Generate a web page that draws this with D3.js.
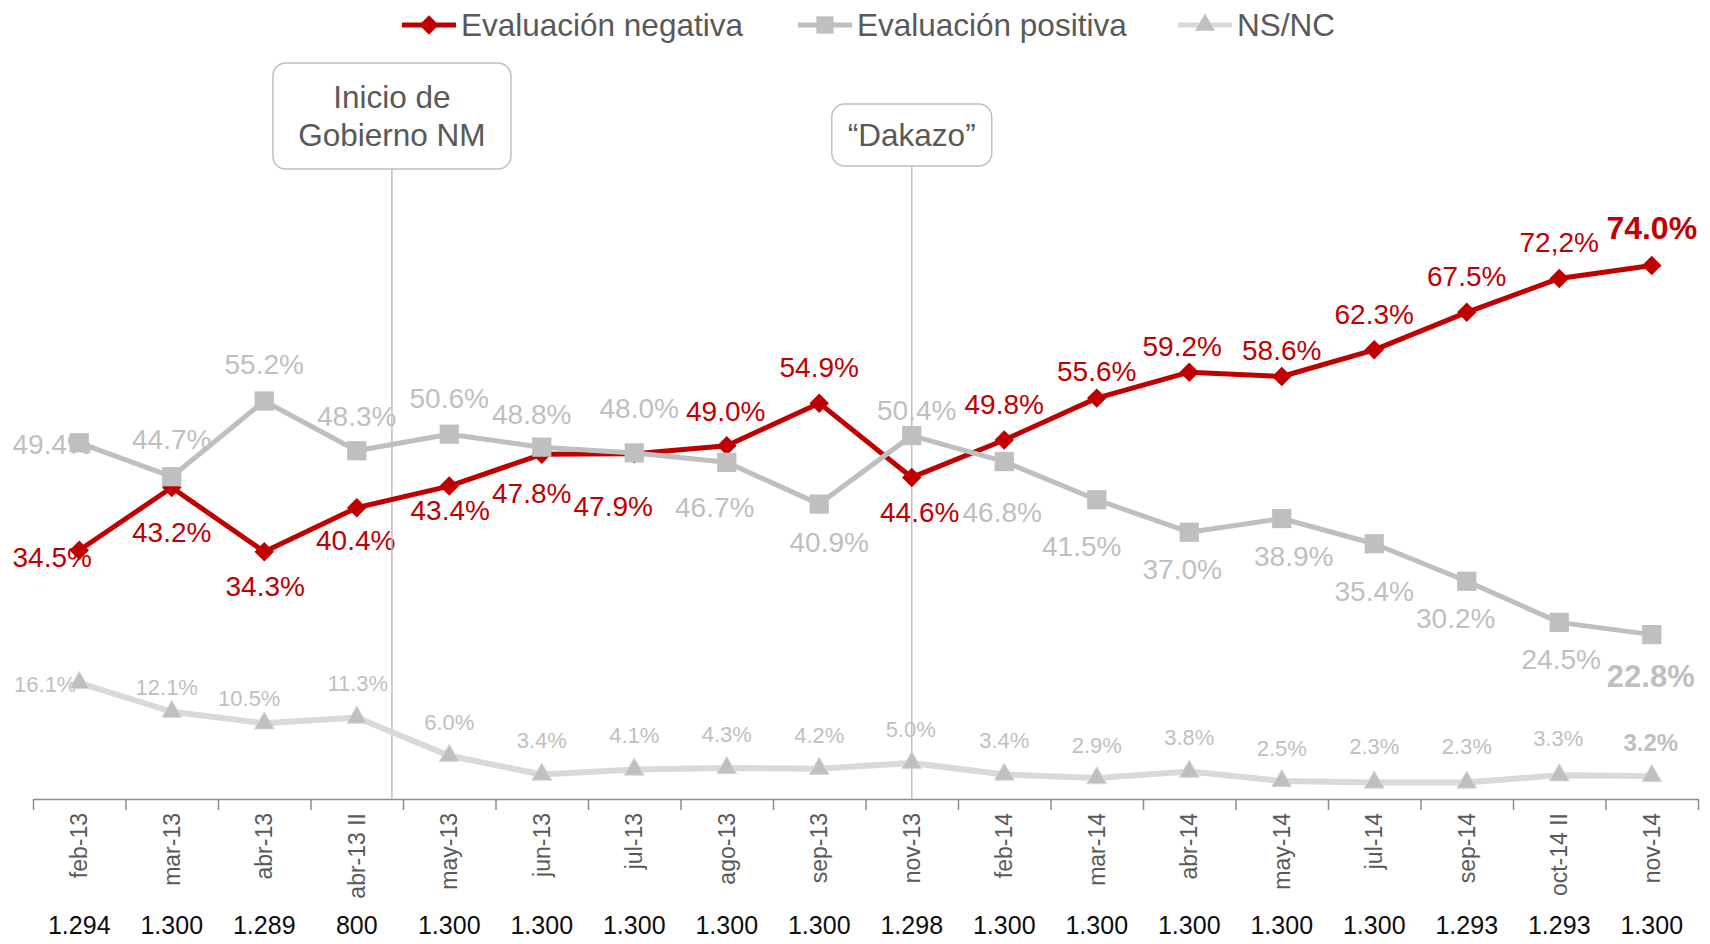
<!DOCTYPE html>
<html>
<head>
<meta charset="utf-8">
<script src="https://cdn.jsdelivr.net/npm/d3@7"></script>
<style>
  html, body { margin: 0; padding: 0; background: #fff; }
  svg { display: block; font-family: Arial, "Liberation Sans", sans-serif; }
</style>
</head>
<body>
<svg id="chart" width="1710" height="944"></svg>
<script>
// data
var categories = ["feb-13", "mar-13", "abr-13", "abr-13 II", "may-13", "jun-13", "jul-13", "ago-13", "sep-13",
  "nov-13", "feb-14", "mar-14", "abr-14", "may-14", "jul-14", "sep-14", "oct-14 II", "nov-14"];
var sampleSizes = ["1.294", "1.300", "1.289", "800", "1.300", "1.300", "1.300", "1.300", "1.300",
  "1.298", "1.300", "1.300", "1.300", "1.300", "1.300", "1.293", "1.293", "1.300"];
var negativa = [34.5, 43.2, 34.3, 40.4, 43.4, 47.8, 47.9, 49.0, 54.9, 44.6, 49.8, 55.6, 59.2, 58.6, 62.3, 67.5, 72.2, 74.0];
var positiva = [49.4, 44.7, 55.2, 48.3, 50.6, 48.8, 48.0, 46.7, 40.9, 50.4, 46.8, 41.5, 37.0, 38.9, 35.4, 30.2, 24.5, 22.8];
var nsnc = [16.1, 12.1, 10.5, 11.3, 6.0, 3.4, 4.1, 4.3, 4.2, 5.0, 3.4, 2.9, 3.8, 2.5, 2.3, 2.3, 3.3, 3.2];
var negativaText = ["34.5%", "43.2%", "34.3%", "40.4%", "43.4%", "47.8%", "47.9%", "49.0%", "54.9%", "44.6%",
  "49.8%", "55.6%", "59.2%", "58.6%", "62.3%", "67.5%", "72,2%", "74.0%"];
var events = [{cat: "abr-13 II", shift: 0.38, lines: ["Inicio de", "Gobierno NM"]},
              {cat: "nov-13", shift: 0, lines: ["\u201cDakazo\u201d"]}];

// label offsets from their points (px)
var negOff = [[-27, 7], [0, 44], [1, 34], [-1, 32], [1, 24], [-10, 39], [-21, 52], [-1, -35], [0, -36],
  [8, 34], [0, -36], [0, -27], [-7, -26], [0, -27], [0, -36], [0, -36], [0, -37], [0, -38]];
var posOff = [[-27, 1], [0, -38], [0, -37], [0, -35], [0, -36], [-10, -33], [5, -45], [-12, 45], [10, 38],
  [5, -26], [-2, 50], [-15, 46], [-7, 37], [12, 37], [0, 47], [-11, 37], [2, 37], [-1, 41]];
var nsOff = [[-34, 1], [-5, -25], [-15, -25], [1, -34], [0, -34], [0, -34], [0, -34], [0, -34], [0, -34],
  [-1, -34], [0, -34], [0, -33], [0, -35], [0, -33], [0, -36], [0, -36], [-1, -37], [-1, -34]];

var red = "#C00000", gray = "#BFBFBF", light = "#D9D9D9", textGray = "#595959";

var svg = d3.select("#chart");
var margin = {left: 33, right: 12};
var axisY = 799;

var x = d3.scaleBand().domain(categories).range([margin.left, 1710 - margin.right]);
var edge = d3.scaleLinear().domain([0, categories.length]).range([margin.left, 1710 - margin.right]);
var y = d3.scaleLinear().domain([0, 100]).range([axisY, 78]);
var cx = function(c) { return x(c) + x.bandwidth() / 2; };

// x axis with ticks on band edges
var axis = svg.append("g")
  .attr("transform", "translate(0," + axisY + ")")
  .call(d3.axisBottom(edge).tickValues(d3.range(categories.length + 1)).tickSize(11).tickSizeOuter(0).tickFormat(""));
axis.select(".domain").attr("stroke", "#8C8C8C").attr("stroke-width", 1.5);
axis.selectAll(".tick line").attr("stroke", "#8C8C8C").attr("stroke-width", 1.5);

svg.append("g").selectAll("text").data(categories).enter().append("text")
  .attr("transform", function(d) { return "translate(" + (cx(d) + 8) + "," + 813 + ") rotate(-90)"; })
  .attr("text-anchor", "end")
  .attr("font-size", 23)
  .attr("fill", textGray)
  .text(function(d) { return d; });

svg.append("g").selectAll("text").data(sampleSizes).enter().append("text")
  .attr("x", function(d, i) { return cx(categories[i]); })
  .attr("y", 934)
  .attr("text-anchor", "middle")
  .attr("font-size", 25)
  .attr("fill", "#0D0D0D")
  .text(function(d) { return d; });

// data labels (drawn under the markers)
function labels(values, texts, off, color, size, lastSize) {
  svg.append("g").selectAll("text").data(values).enter().append("text")
    .attr("x", function(d, i) { return cx(categories[i]) + off[i][0]; })
    .attr("y", function(d, i) { return y(d) + off[i][1]; })
    .attr("dy", "0.36em")
    .attr("text-anchor", "middle")
    .attr("font-size", function(d, i) { return i === values.length - 1 ? lastSize : size; })
    .attr("font-weight", function(d, i) { return i === values.length - 1 ? "bold" : "normal"; })
    .attr("fill", color)
    .text(function(d, i) { return texts ? texts[i] : d.toFixed(1) + "%"; });
}
labels(negativa, negativaText, negOff, red, 28, 32);
labels(positiva, null, posOff, gray, 28, 31);
labels(nsnc, null, nsOff, gray, 22, 24);

// event markers
events.forEach(function(ev) {
  var ex = cx(ev.cat) + ev.shift * x.step();
  var boxW = ev.lines.length > 1 ? 238 : 160;
  var boxH = ev.lines.length > 1 ? 106 : 62;
  var boxTop = ev.lines.length > 1 ? 63 : 104;
  svg.append("line")
    .attr("x1", ex).attr("x2", ex)
    .attr("y1", boxTop + boxH).attr("y2", axisY)
    .attr("stroke", gray).attr("stroke-width", 1.5);
  svg.append("rect")
    .attr("x", ex - boxW / 2).attr("y", boxTop)
    .attr("width", boxW).attr("height", boxH)
    .attr("rx", 13)
    .attr("fill", "#fff").attr("stroke", gray).attr("stroke-width", 1.5);
  ev.lines.forEach(function(t, k) {
    svg.append("text")
      .attr("x", ex)
      .attr("y", boxTop + boxH / 2 + (k - (ev.lines.length - 1) / 2) * 38)
      .attr("dy", "0.36em")
      .attr("text-anchor", "middle")
      .attr("font-size", 31.5)
      .attr("fill", textGray)
      .text(t);
  });
});

// series
var line = d3.line().x(function(d, i) { return cx(categories[i]); }).y(function(d) { return y(d); });

function series(values, color, width, symbol, size, rot, fill, stroke) {
  var g = svg.append("g");
  g.append("path").datum(values)
    .attr("d", line)
    .attr("fill", "none")
    .attr("stroke", color)
    .attr("stroke-width", width)
    .attr("stroke-linejoin", "round");
  g.selectAll("path.m").data(values).enter().append("path")
    .attr("class", "m")
    .attr("d", d3.symbol().type(symbol).size(size))
    .attr("transform", function(d, i) { return "translate(" + cx(categories[i]) + "," + y(d) + ") rotate(" + rot + ")"; })
    .attr("fill", fill)
    .attr("stroke", stroke || "none")
    .attr("stroke-width", 1);
}
series(negativa, red, 5, d3.symbolSquare, 190, 45, red);
series(positiva, gray, 5, d3.symbolSquare, 370, 0, gray);
series(nsnc, light, 6, d3.symbolTriangle, 170, 0, gray, light);

// legend
var legend = [
  {name: "Evaluaci\u00f3n negativa", color: red, symbol: d3.symbolSquare, size: 190, rot: 45, x: 402},
  {name: "Evaluaci\u00f3n positiva", color: gray, symbol: d3.symbolSquare, size: 300, rot: 0, x: 798},
  {name: "NS/NC", color: light, mark: gray, symbol: d3.symbolTriangle, size: 170, rot: 0, x: 1178}
];
var lg = svg.append("g").selectAll("g").data(legend).enter().append("g")
  .attr("transform", function(d) { return "translate(" + d.x + ",25)"; });
lg.append("line")
  .attr("x1", 0).attr("x2", 54)
  .attr("stroke", function(d) { return d.color; })
  .attr("stroke-width", 5);
lg.append("path")
  .attr("d", function(d) { return d3.symbol().type(d.symbol).size(d.size)(); })
  .attr("transform", function(d) { return "translate(27,0) rotate(" + d.rot + ")"; })
  .attr("fill", function(d) { return d.mark || d.color; });
lg.append("text")
  .attr("x", 59)
  .attr("dy", "0.36em")
  .attr("font-size", 31.5)
  .attr("fill", textGray)
  .text(function(d) { return d.name; });
</script>
</body>
</html>
